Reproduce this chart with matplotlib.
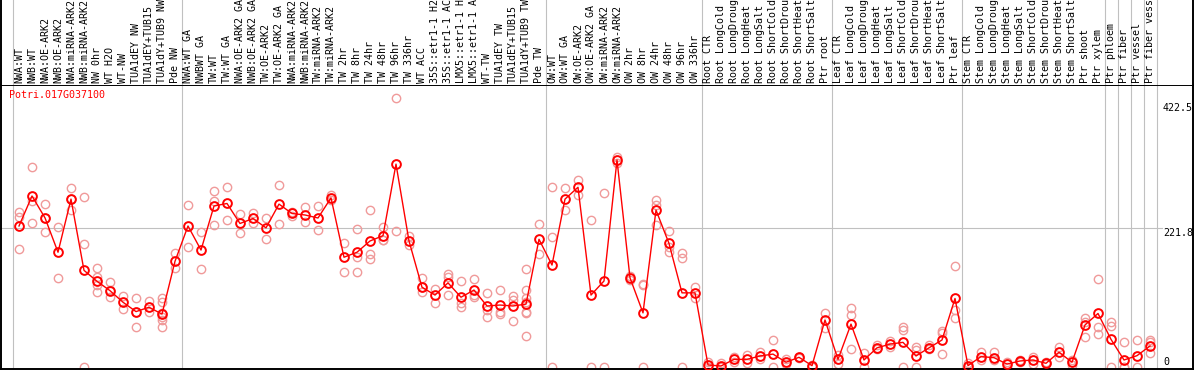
import matplotlib
matplotlib.use('Agg')
import matplotlib.pyplot as plt
import matplotlib.transforms as mtransforms

gene = 'Potri.017G037100'

# sample labels (the source cuts them at 14 characters)
labels = [
    'NWA:WT', 'NWB:WT', 'NWA:OE-ARK2', 'NWB:OE-ARK2', 'NWA:miRNA-ARK2', 'NWB:miRNA-ARK2',
    'NW 0hr', 'WT H2O', 'WT-NW', 'TUA1dEY NW', 'TUA1dEY+TUB15', 'TUA1dY+TUB9 NW', 'Pde NW',
    'NWA:WT GA', 'NWBWT GA', 'TW:WT', 'TW:WT GA', 'NWA:OE-ARK2 GA', 'NWB:OE-ARK2 GA',
    'TW:OE-ARK2', 'TW:OE-ARK2 GA', 'NWA:miRNA-ARK2', 'NWB:miRNA-ARK2', 'TW:miRNA-ARK2',
    'TW:miRNA-ARK2', 'TW 2hr', 'TW 8hr', 'TW 24hr', 'TW 48hr', 'TW 96hr', 'TW 336hr',
    'WT ACC', '35S::etr1-1 H2', '35S::etr1-1 AC', 'LMX5::etr1-1 H', 'LMX5::etr1-1 A',
    'WT-TW', 'TUA1dEY TW', 'TUA1dEY+TUB15', 'TUA1dY+TUB9 TW', 'Pde TW',
    'OW:WT', 'OW:WT GA', 'OW:OE-ARK2', 'OW:OE-ARK2 GA', 'OW:miRNA-ARK2', 'OW:miRNA-ARK2',
    'OW 2hr', 'OW 8hr', 'OW 24hr', 'OW 48hr', 'OW 96hr', 'OW 336hr',
    'Root CTR', 'Root LongCold', 'Root LongDroug', 'Root LongHeat', 'Root LongSalt',
    'Root ShortCold', 'Root ShortDrou', 'Root ShortHeat', 'Root ShortSalt', 'Ptr root',
    'Leaf CTR', 'Leaf LongCold', 'Leaf LongDroug', 'Leaf LongHeat', 'Leaf LongSalt',
    'Leaf ShortCold', 'Leaf ShortDrou', 'Leaf ShortHeat', 'Leaf ShortSalt', 'Ptr leaf',
    'Stem CTR', 'Stem LongCold', 'Stem LongDroug', 'Stem LongHeat', 'Stem LongSalt',
    'Stem ShortCold', 'Stem ShortDrou', 'Stem ShortHeat', 'Stem ShortSalt', 'Ptr shoot',
    'Ptr xylem', 'Ptr phloem', 'Ptr fiber', 'Ptr vessel', 'Ptr fiber vess',
]

# mean expression per sample
means = [
    225, 273, 238, 183, 268, 154, 136.5, 121.5, 103, 88, 95, 84, 168.5,
    225, 186.5, 257, 261, 229, 237, 222, 260, 245, 242.6, 237.8, 270, 175, 183, 201,
    209.5, 324, 201, 127, 114.5, 134, 111, 122.5, 97, 98.5, 97, 100, 203.7,
    162.5, 268, 287, 114.5, 137, 330.6, 142, 86, 250.5, 197, 118, 118,
    2.6, 1, 11.6, 11.6, 17, 20, 7, 14.9, 1.5, 74.6,
    11.6, 68, 10.6, 30, 36, 38.8, 17, 30, 42.6, 109,
    1.5, 16, 14.3, 4, 9, 10.6, 5.3, 23, 7, 66.6, 85,
    43.6, 10.6, 17.5, 33,
]

# individual replicates per sample
reps = [
    [248, 240, 188], [319, 265, 229], [260, 238, 215], [224, 141], [286, 268, 250],
    [271, 196, 0], [157, 144, 130, 119], [135, 122, 112], [113, 92], [109, 88, 64],
    [105, 88], [110, 103, 86, 80, 74, 64], [181, 157],
    [258, 191], [216, 156], [281, 265, 226], [288, 234], [244, 213], [246, 230],
    [238, 204], [290, 228], [248, 241], [256, 231], [257, 219], [275, 267], [197, 152],
    [220, 175, 152], [250, 180, 172], [224, 203, 202], [429, 217], [209, 194],
    [141, 127, 119], [124, 101], [148, 144, 114], [137, 101, 96], [140, 114, 111],
    [117, 90, 80], [122, 88, 84], [113, 107, 73], [156, 122, 109, 104, 88, 85, 49],
    [228, 180],
    [287, 208, 0], [285, 250], [299, 274], [234, 0], [278, 0], [336, 325], [145, 139],
    [132, 130, 0], [267, 259, 227], [217, 192, 184], [181, 174, 0], [127, 109],
    [8, 0], [5, 0], [16, 8], [18, 5], [23, 12], [43, 0], [12, 4], [16, 13], [3, 0],
    [85, 61],
    [19, 4], [93, 82, 28], [21, 0], [35, 28], [41, 32], [64, 59, 0], [31, 27, 0],
    [35, 28], [57, 53, 20], [161, 90, 78],
    [6, 0], [23, 10], [23, 10], [8, 0], [10, 8], [16, 4], [8, 4], [32, 16], [11, 3],
    [77, 72, 48], [140, 64, 52],
    [71, 65, 0], [39, 0, 0], [43, 0], [43, 39, 21],
]

# group separators (between samples)
group_edges = [-0.5, 12.5, 40.5, 52.5, 62.5, 72.5, 83.5, 84.5, 85.5, 86.5, 87.5]
y_ticks = [422.5, 221.8]

W, H = 1194, 370
fig = plt.figure(figsize=(W / 100, H / 100), dpi=100)
mono = 'DejaVu Sans Mono'
fs = 7.2

xlim = (-18 / 13, 1174 / 13)
ylim = (-3.84, 450.6)

ax = fig.add_axes([1 / W, 1 / H, 1192 / W, 284 / H])
hd = fig.add_axes([1 / W, 285 / H, 1192 / W, 85 / H])

for a in (ax, hd):
    a.set_xlim(*xlim)
    a.set_xticks([])
    a.set_yticks([])
    for x in group_edges:
        a.axvline(x, color='#c0c0c0', lw=0.8, zorder=0)
    for s in a.spines.values():
        s.set_linewidth(1.4)
        s.set_color('black')

hd.set_ylim(0, 1)
hd.spines['top'].set_visible(False)
hd.spines['bottom'].set_visible(False)
ax.set_ylim(*ylim)

# header labels
tr = mtransforms.blended_transform_factory(hd.transData, hd.transAxes)
for i, lbl in enumerate(labels):
    hd.text(i, 0.02, lbl, rotation=90, ha='center', va='bottom', transform=tr,
            family=mono, fontsize=fs, color='black')

# horizontal grid line
ax.axhline(y_ticks[1], xmin=0, xmax=(1162 - 1) / 1192, color='#c0c0c0', lw=0.8, zorder=0)

# replicates
for i, r in enumerate(reps):
    ax.plot([i] * len(r), r, 'o', ms=6, mfc='none', mec='#f09a9a', mew=1.0, zorder=2)

# mean line
x = list(range(len(means)))
ax.plot(x, means, '-', color='red', lw=1.0, zorder=3)
ax.plot(x, means, 'o', ms=6.3, mfc='none', mec='red', mew=1.4, zorder=4)

# right-hand value labels
xr = (1163 - 19) / 13
ax.text(xr, y_ticks[0], '422.5', ha='left', va='top', family=mono, fontsize=fs)
ax.text(xr, y_ticks[1], '221.8', ha='left', va='top', family=mono, fontsize=fs)
ax.text(xr, 0, '0', ha='left', va='bottom', family=mono, fontsize=fs)

ax.text(0.0066, 0.965, gene, transform=ax.transAxes, ha='left', va='center',
        family=mono, fontsize=fs, color='red')

fig.savefig('out.png', dpi=100)
